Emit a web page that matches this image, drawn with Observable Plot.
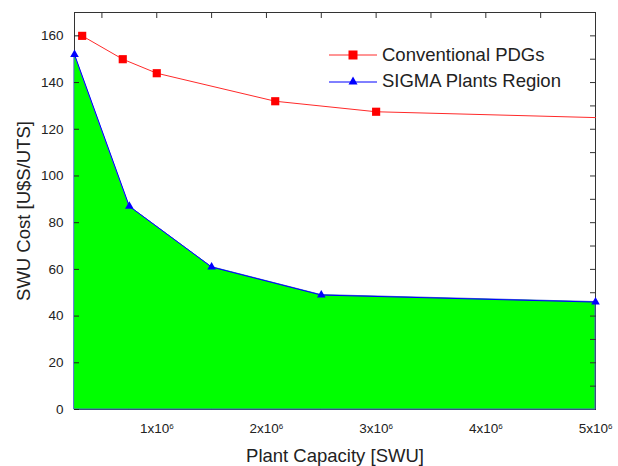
<!DOCTYPE html>
<html><head><meta charset="utf-8">
<script src="https://cdn.jsdelivr.net/npm/d3@7"></script>
<script src="https://cdn.jsdelivr.net/npm/@observablehq/plot@0.6"></script>
<style>
body{margin:0;background:#fff;font-family:"Liberation Sans",Arial,sans-serif;}
#wrap{position:relative;width:618px;height:466px;}
#wrap svg text{fill:#222;}
#legend{position:absolute;left:329px;top:42px;font-size:18.5px;color:#222;line-height:26px;}
#legend .row{display:flex;align-items:center;height:26px;}
#legend svg{margin-right:5px;}
</style></head><body><div id="wrap"></div>
<script>
const conventionalCapacity = [0.32e6, 0.69e6, 1.0e6, 2.08e6, 3.0e6, 5.0e6];
const conventionalCost = [160, 150, 144, 132, 127.5, 125];
const conventionalMarked = [true, true, true, true, true, false];
const sigmaCapacity = [0.25e6, 0.75e6, 1.5e6, 2.5e6, 5.0e6];
const sigmaCost = [152, 87, 61, 49, 46];
const xTicks = [1e6, 2e6, 3e6, 4e6, 5e6];
const xTickMantissa = ["1", "2", "3", "4", "5"];
const xMinorTicks = [0.5e6, 1e6, 1.5e6, 2e6, 2.5e6, 3e6, 3.5e6, 4e6, 4.5e6];
const yTicks = [0, 20, 40, 60, 80, 100, 120, 140, 160];
const yMinorTicks = [10, 20, 30, 40, 50, 60, 70, 80, 90, 100, 110, 120, 130, 140, 150, 160];
const seriesNames = ["Conventional PDGs", "SIGMA Plants Region"];

const conv = conventionalCapacity.map((x, i) => ({x, y: conventionalCost[i], marked: conventionalMarked[i]}));
const sigma = sigmaCapacity.map((x, i) => ({x, y: sigmaCost[i]}));

const chart = Plot.plot({
  width: 618, height: 466,
  marginLeft: 74, marginRight: 23, marginTop: 12, marginBottom: 57,
  style: {fontFamily: '"Liberation Sans", Arial, sans-serif', fontSize: "13.5px", color: "#222"},
  x: {domain: [0.25e6, 5e6]},
  y: {domain: [0, 170]},
  marks: [
    Plot.frame({stroke: "#333", strokeWidth: 1}),
    Plot.areaY(sigma, {x: "x", y: "y", fill: "#00ff00", stroke: "#4a6ad0", strokeWidth: 1}),
    Plot.line(sigma, {x: "x", y: "y", stroke: "#0000ff", strokeWidth: 1}),
    Plot.line(conv, {x: "x", y: "y", stroke: "#ff2a2a", strokeWidth: 1}),
    Plot.dot(conv.filter(d => d.marked), {x: "x", y: "y", symbol: "square", r: 4.6, fill: "#ff0000"}),
    Plot.dot(sigma, {x: "x", y: "y", symbol: "triangle", r: 3.2, fill: "#0000ff"}),
    Plot.axisY(yTicks, {anchor: "left", tickSize: 0, tickPadding: 11, fontSize: 13.5, label: "SWU Cost [U$S/UTS]", labelArrow: "none", labelAnchor: "center", labelOffset: 58}),
    Plot.axisY(yTicks, {anchor: "left", tickSize: -5, tickFormat: () => "", label: null}),
    Plot.axisY(yMinorTicks, {anchor: "right", tickSize: -6, tickFormat: () => "", label: null, stroke: "#333"}),
    Plot.axisX(xTicks, {anchor: "bottom", tickSize: 0, tickPadding: 14, fontSize: 13.5, tickFormat: d => xTickMantissa[xTicks.indexOf(d)] + "x10", label: "Plant Capacity [SWU]", labelArrow: "none", labelAnchor: "center", labelOffset: 52}),
    Plot.axisX(xMinorTicks, {anchor: "top", tickSize: -5, tickFormat: () => "", label: null, stroke: "#333"})
  ]
});

// superscript exponents on x tick labels
d3.select(chart).selectAll('[aria-label="x-axis tick label"] text').each(function() {
  const t = d3.select(this);
  const txt = t.text();
  if (txt) {
    t.text(txt);
    t.append("tspan").attr("dy", "-0.55em").attr("font-size", "8px").text("6");
  }
});
d3.select(chart).selectAll('[aria-label="x-axis label"] text, [aria-label="y-axis label"] text').each(function() {
  const t = d3.select(this);
  t.text(t.text().replace(/\s*[→↑←↓]\s*/g, "")).style("font-size", "18.5px");
});

const wrap = document.getElementById("wrap");
wrap.appendChild(chart);

const legend = document.createElement("div");
legend.id = "legend";
legend.innerHTML = `
<div class="row"><svg width="48" height="12"><line x1="0" x2="48" y1="6" y2="6" stroke="#ff2a2a"/><rect x="19.5" y="1.5" width="9" height="9" fill="#ff0000"/></svg><span>${seriesNames[0]}</span></div>
<div class="row"><svg width="48" height="12"><line x1="0" x2="48" y1="7" y2="7" stroke="#0000ff"/><path d="M24,1.5 L28.5,9.5 L19.5,9.5 Z" fill="#0000ff"/></svg><span>${seriesNames[1]}</span></div>`;
wrap.appendChild(legend);
</script>
</body></html>
